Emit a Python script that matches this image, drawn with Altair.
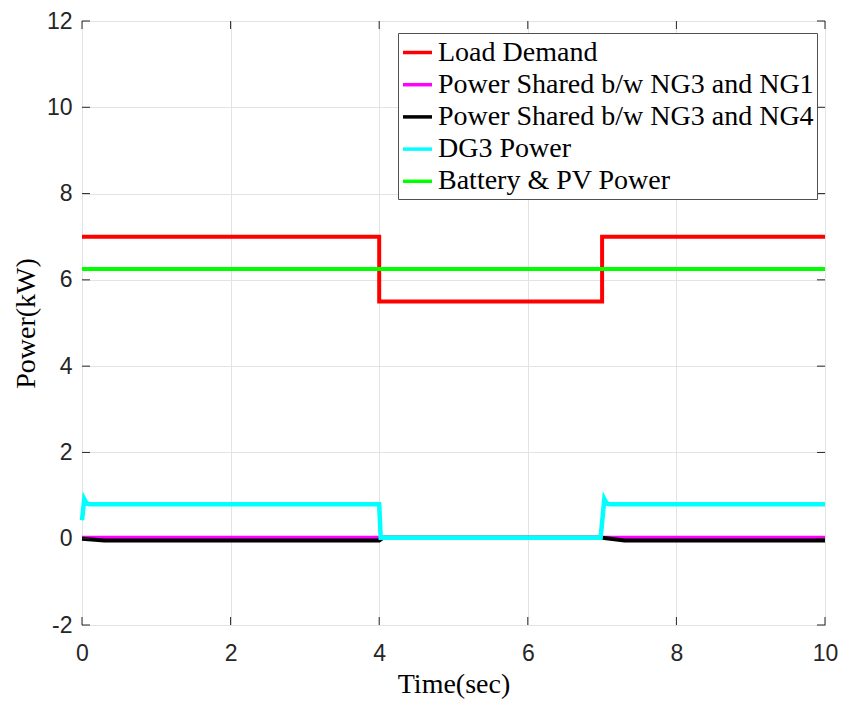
import altair as alt
import pandas as pd

# ---- data ----
series_names = [
    "Load Demand",
    "Power Shared b/w NG3 and NG1",
    "Power Shared b/w NG3 and NG4",
    "DG3 Power",
    "Battery & PV Power",
]
series_colors = ["#ff0000", "#ff00ff", "#000000", "#00ffff", "#00ff00"]

t_load = [0, 4.0, 4.0, 7.0, 7.0, 10]
p_load = [7.0, 7.0, 5.5, 5.5, 7.0, 7.0]

t_ng1 = [0, 10]
p_ng1 = [0.02, 0.02]

t_ng4 = [0, 0.3, 4.0, 4.05, 7.0, 7.3, 10]
p_ng4 = [0.0, -0.04, -0.04, 0.02, 0.02, -0.04, -0.04]

t_dg3 = [0, 0.03, 0.06, 0.1, 4.0, 4.02, 6.98, 7.03, 7.06, 7.1, 10]
p_dg3 = [0.43, 0.92, 0.82, 0.8, 0.8, 0.02, 0.02, 0.92, 0.82, 0.8, 0.8]

t_bpv = [0, 10]
p_bpv = [6.25, 6.25]

x_ticks = [0, 2, 4, 6, 8, 10]
y_ticks = [-2, 0, 2, 4, 6, 8, 10, 12]

W, H = 743, 604
TICK = 8
AXIS_COLOR = "#262626"

rows = []
for name, ts, ps in [
    (series_names[0], t_load, p_load),
    (series_names[1], t_ng1, p_ng1),
    (series_names[2], t_ng4, p_ng4),
    (series_names[3], t_dg3, p_dg3),
    (series_names[4], t_bpv, p_bpv),
]:
    for i, (t, p) in enumerate(zip(ts, ps)):
        rows.append({"series": name, "t": t, "p": p, "idx": i})
df = pd.DataFrame(rows)

xscale = alt.Scale(domain=[0, 10], nice=False, zero=False)
yscale = alt.Scale(domain=[-2, 12], nice=False, zero=False)
cscale = alt.Scale(domain=series_names, range=series_colors)

xaxis = alt.Axis(
    values=x_ticks, title="Time(sec)", grid=True, ticks=False, tickSize=0,
    domain=False, labelPadding=17, titlePadding=5, labelFlush=False,
    labelExpr="'' + datum.value",
)
yaxis = alt.Axis(
    values=y_ticks, title="Power(kW)", grid=True, ticks=False, tickSize=0,
    domain=False, labelPadding=10, titlePadding=6, labelFlush=False,
    labelExpr="'' + datum.value",
)

legend = alt.Legend(
    title=None,
    orient="none",
    legendX=316,
    legendY=12,
    symbolType="stroke",
    symbolSize=841,
    symbolStrokeWidth=3.5,
    labelFont="Liberation Serif",
    labelFontSize=28,
    labelColor="#000000",
    labelLimit=600,
    labelOffset=4,
    rowPadding=1.2,
    padding=3,
    strokeColor="#505050",
    fillColor="#ffffff",
    cornerRadius=0,
)

widths = [4, 4, 4, 4.5, 4]
layers = []
for k, name in enumerate(series_names):
    enc = dict(
        x=alt.X("t:Q", scale=xscale, axis=xaxis),
        y=alt.Y("p:Q", scale=yscale, axis=yaxis),
        color=alt.Color("series:N", scale=cscale, legend=legend),
        order=alt.Order("idx:Q"),
    )
    layers.append(
        alt.Chart(df)
        .transform_filter(alt.datum.series == name)
        .mark_line(strokeWidth=widths[k], strokeJoin="miter", strokeCap="butt")
        .encode(**enc)
    )

ydf = pd.DataFrame({"v": y_ticks})
xdf = pd.DataFrame({"v": x_ticks})
tick_style = dict(color=AXIS_COLOR, strokeWidth=1)
left_ticks = alt.Chart(ydf).mark_rule(**tick_style).encode(
    y=alt.Y("v:Q", scale=yscale, axis=yaxis), x=alt.value(0), x2=alt.value(TICK))
right_ticks = alt.Chart(ydf).mark_rule(**tick_style).encode(
    y=alt.Y("v:Q", scale=yscale, axis=yaxis), x=alt.value(W - TICK), x2=alt.value(W))
bottom_ticks = alt.Chart(xdf).mark_rule(**tick_style).encode(
    x=alt.X("v:Q", scale=xscale, axis=xaxis), y=alt.value(H - TICK), y2=alt.value(H))
top_ticks = alt.Chart(xdf).mark_rule(**tick_style).encode(
    x=alt.X("v:Q", scale=xscale, axis=xaxis), y=alt.value(0), y2=alt.value(TICK))

chart = (
    alt.layer(*layers, left_ticks, right_ticks, bottom_ticks, top_ticks)
    .properties(
        width=W,
        height=H,
        autosize=alt.AutoSizeParams(type="none"),
        padding={"left": 74, "top": 13, "right": 13, "bottom": 74},
        background="#ffffff",
    )
    .configure_view(stroke=AXIS_COLOR, strokeWidth=1)
    .configure_axis(
        labelFont="Liberation Sans",
        labelFontSize=23,
        labelColor=AXIS_COLOR,
        titleFont="Liberation Serif",
        titleFontSize=28,
        titleFontWeight="normal",
        titleColor="#000000",
        gridColor="#e3e3e3",
        gridWidth=1,
    )
)

chart.save("out.html", embed_options={"renderer": "svg", "actions": False})
